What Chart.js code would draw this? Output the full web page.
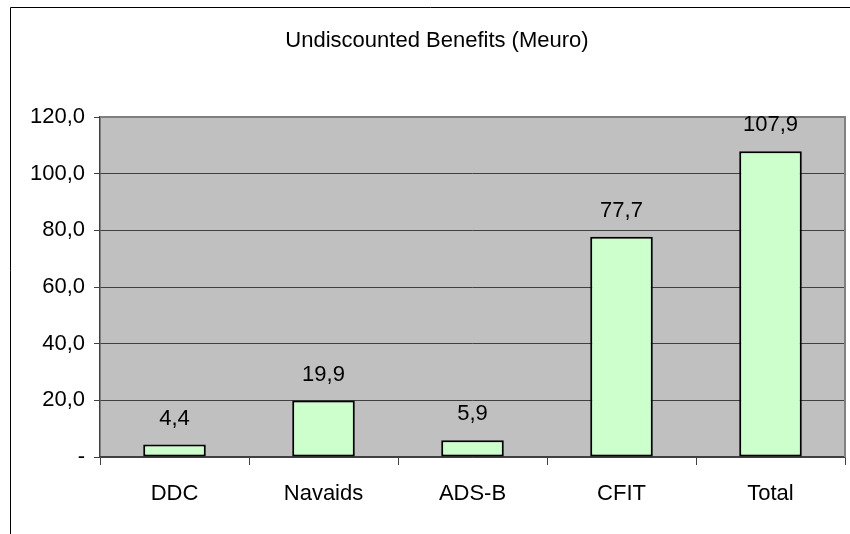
<!DOCTYPE html>
<html>
<head>
<meta charset="utf-8">
<script src="https://cdn.jsdelivr.net/npm/chart.js@4.4.1/dist/chart.umd.min.js"></script>
<style>
  html, body { margin: 0; padding: 0; background: #fff; overflow: hidden; }
  #wrap { width: 850px; height: 534px; }
</style>
</head>
<body>
<div id="wrap"><canvas id="benefitsChart" width="850" height="534"></canvas></div>
<script>
    // --- Data ---
    const chartTitle = "Undiscounted Benefits (Meuro)";
    const categories = ["DDC", "Navaids", "ADS-B", "CFIT", "Total"];
    const benefitValues = [4.4, 19.9, 5.9, 77.7, 107.9];
    const yTicks = [0, 20, 40, 60, 80, 100, 120];

    const FONT = "'Liberation Sans', Arial, sans-serif";

    function formatComma(v) {
      return v.toFixed(1).replace(".", ",");
    }

    // --- Excel-like decorations ---
    const excelLook = {
      id: "excelLook",
      beforeDraw(chart) {
        const { ctx, chartArea: a } = chart;
        ctx.save();
        // outer frame (cut off at right/bottom)
        ctx.strokeStyle = "#000";
        ctx.lineWidth = 1;
        ctx.beginPath();
        ctx.moveTo(10.5, 534);
        ctx.lineTo(10.5, 7.5);
        ctx.lineTo(850, 7.5);
        ctx.stroke();
        // plot background
        ctx.fillStyle = "#c0c0c0";
        ctx.fillRect(a.left, a.top, a.right - a.left, a.bottom - a.top);
        // title
        ctx.fillStyle = "#000";
        ctx.font = "22px " + FONT;
        ctx.textAlign = "center";
        ctx.textBaseline = "alphabetic";
        ctx.fillText(chartTitle, 437, 47);
        ctx.restore();
      },
      beforeDatasetsDraw(chart) {
        const { ctx, chartArea: a } = chart;
        ctx.save();
        ctx.strokeStyle = "#808080";
        ctx.lineWidth = 2;
        ctx.beginPath();
        ctx.moveTo(a.left, a.top);
        ctx.lineTo(a.right, a.top);
        ctx.lineTo(a.right, a.bottom);
        ctx.stroke();
        ctx.restore();
      },
      afterDatasetsDraw(chart) {
        const { ctx } = chart;
        const meta = chart.getDatasetMeta(0);
        ctx.save();
        ctx.fillStyle = "#000";
        ctx.font = "22px " + FONT;
        ctx.textAlign = "center";
        ctx.textBaseline = "alphabetic";
        meta.data.forEach((bar, i) => {
          ctx.fillText(formatComma(benefitValues[i]), bar.x, bar.y - 20);
        });
        ctx.restore();
      }
    };

    // --- Chart ---
    const ctx = document.getElementById("benefitsChart").getContext("2d");
    new Chart(ctx, {
      type: "bar",
      data: {
        labels: categories,
        datasets: [{
          data: benefitValues,
          backgroundColor: "#ccffcc",
          borderColor: "#000",
          borderWidth: 2,
          borderSkipped: false,
          categoryPercentage: 1,
          barPercentage: 0.42
        }]
      },
      options: {
        responsive: false,
        animation: false,
        layout: { padding: { top: 117, right: 5, bottom: 0, left: 0 } },
        plugins: {
          legend: { display: false },
          title: { display: false },
          tooltip: { enabled: false }
        },
        scales: {
          x: {
            grid: {
              offset: true,
              drawOnChartArea: false,
              drawTicks: true,
              tickLength: 8,
              color: "#404040",
              lineWidth: 1
            },
            border: { color: "#404040", width: 1.5 },
            ticks: {
              color: "#000",
              font: { family: FONT, size: 22 },
              padding: 16,
              maxRotation: 0
            },
            afterFit(scale) { scale.height = 77; }
          },
          y: {
            min: 0,
            max: 120,
            afterBuildTicks(scale) {
              scale.ticks = yTicks.map(v => ({ value: v }));
            },
            grid: {
              color: "#404040",
              lineWidth: 1,
              drawTicks: true,
              tickLength: 6
            },
            border: { color: "#404040", width: 1.5 },
            ticks: {
              color: "#000",
              font: { family: FONT, size: 22 },
              padding: 9,
              callback: v => (v === 0 ? "-" : formatComma(v))
            },
            afterFit(scale) { scale.width = 100; }
          }
        }
      },
      plugins: [excelLook]
    });
</script>
</body>
</html>
